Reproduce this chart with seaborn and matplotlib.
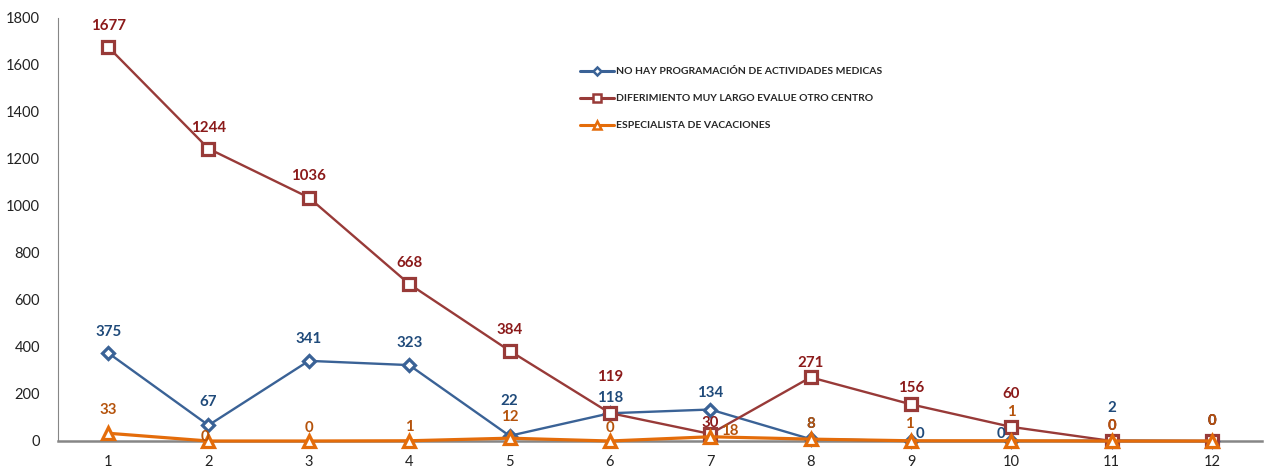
import matplotlib
matplotlib.use("Agg")
import matplotlib.pyplot as plt
import seaborn as sns
import pandas as pd

# Monthly counts per reason
months = list(range(1, 13))
sin_programacion = [375, 67, 341, 323, 22, 118, 134, 8, 0, 0, 2, 0]
diferimiento = [1677, 1244, 1036, 668, 384, 119, 30, 271, 156, 60, 0, 0]
vacaciones = [33, 0, 0, 1, 12, 0, 18, 8, 1, 1, 0, 0]

series_names = [
    "NO HAY PROGRAMACIÓN DE ACTIVIDADES MEDICAS",
    "DIFERIMIENTO MUY LARGO EVALUE OTRO CENTRO",
    "ESPECIALISTA DE VACACIONES",
]

sns.set_style("white")
plt.rcParams["font.family"] = ["Lato", "DejaVu Sans"]

line_colors = ["#3A6296", "#983A38", "#E46C0A"]
label_colors = ["#1F4A7A", "#8B1A1A", "#B5530C"]
markers = ["D", "s", "^"]
marker_sizes = [6.5, 8.5, 9]
line_widths = [1.7, 1.7, 2.3]

# label offsets in pixels (dx, dy) per point
offsets = [
    [(0, 21), (0, 23), (0, 22), (0, 22), (0, 35), (0, 15), (0, 17), (0, 15),
     (9, 7), (-10, 7), (0, 33), (0, 20)],
    [(0, 21), (0, 21), (0, 22), (0, 21), (0, 21), (0, 36), (0, 11), (0, 14),
     (0, 16), (0, 33), (0, 15), (0, 20)],
    [(0, 23), (-4, 4), (0, 13), (0, 14), (0, 21), (0, 13), (20, 6), (0, 15),
     (-2, 17), (0, 29), (0, 15), (0, 20)],
]

df = pd.DataFrame({
    "mes": months * 3,
    "valor": sin_programacion + diferimiento + vacaciones,
    "serie": [series_names[0]] * 12 + [series_names[1]] * 12 + [series_names[2]] * 12,
})

fig = plt.figure(figsize=(12.65, 4.71), dpi=100)
ax = fig.add_axes([0.0458, 0.0637, 0.952, 0.8981])

for i, name in enumerate(series_names):
    sub = df[df["serie"] == name]
    sns.lineplot(
        data=sub, x="mes", y="valor", ax=ax, color=line_colors[i],
        marker=markers[i], markersize=marker_sizes[i], markerfacecolor="white",
        markeredgecolor=line_colors[i], markeredgewidth=2.3,
        linewidth=line_widths[i], label=name, zorder=3 + i, clip_on=False,
    )

for i, name in enumerate(series_names):
    sub = df[df["serie"] == name].reset_index(drop=True)
    for j, row in sub.iterrows():
        dx, dy = offsets[i][j]
        ax.annotate(
            f"{int(row['valor'])}", (row["mes"], row["valor"]),
            xytext=(dx, dy), textcoords="offset pixels",
            ha="center", va="center", fontsize=10.8, fontweight="bold",
            color=label_colors[i], zorder=10 + i,
        )

ax.set_xlim(0.5, 12.5)
ax.set_ylim(0, 1800)
ax.set_yticks(range(0, 1801, 200))
ax.set_xticks(months)
ax.set_xticks([m + 0.5 for m in range(0, 13)], minor=True)
ax.set_xlabel("")
ax.set_ylabel("")

for side in ["top", "right"]:
    ax.spines[side].set_visible(False)
ax.spines["left"].set_color("#868686")
ax.spines["left"].set_linewidth(0.8)
ax.spines["bottom"].set_color("#868686")
ax.spines["bottom"].set_linewidth(1.8)

ax.tick_params(axis="x", which="major", length=0, pad=10, labelsize=10.5, colors="#222222")
ax.tick_params(axis="x", which="minor", length=5, width=0.8, color="#868686", direction="out")
ax.tick_params(axis="y", length=5, width=0.8, color="#868686", direction="out",
               labelsize=10.5, labelcolor="#222222", pad=8)

leg = ax.legend(
    loc="upper left", bbox_to_anchor=(0.426, 0.906), frameon=False,
    handlelength=3.2, handletextpad=0.2, labelspacing=1.7,
    prop={"size": 7.5, "weight": "bold"},
)
for h, ms in zip(leg.legend_handles, [4, 6, 6]):
    h.set_markersize(ms)
    h.set_linewidth(2.2)
    h.set_markeredgewidth(1.8)

fig.savefig("out.png", dpi=100)
